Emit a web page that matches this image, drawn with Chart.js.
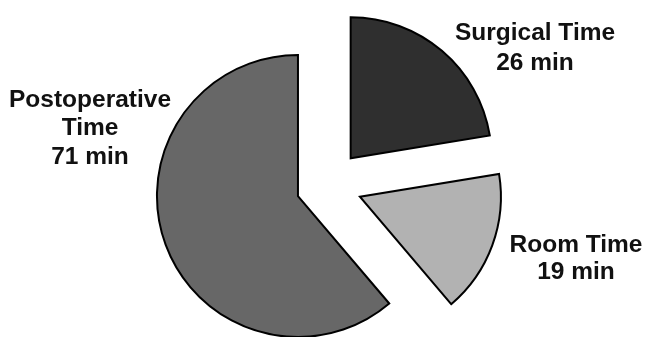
<!DOCTYPE html>
<html>
<head>
<meta charset="utf-8">
<script src="https://cdn.jsdelivr.net/npm/chart.js@4/dist/chart.umd.min.js"></script>
<style>
  html, body { margin: 0; padding: 0; background: #fff; }
  #wrap { width: 646px; height: 337px; position: relative; }
</style>
</head>
<body>
<div id="wrap"><canvas id="timeChart"></canvas></div>
<script>
// slices, clockwise from 12 o'clock
const categories = ['Surgical Time', 'Room Time', 'Postoperative Time'];
const minutes = [26, 19, 71];
const labelLines = [['Surgical Time', '26 min'], ['Room Time', '19 min'], ['Postoperative', 'Time', '71 min']];
const sliceColors = ['#2f2f2f', '#b2b2b2', '#676767'];

// how far each slice is pulled out from the centre (px)
const explode = [35, 34, 32];

// move every slice out along its middle angle (chart.js' own offset
// also shrinks the arc and grows big slices, so do it here instead)
const explodeSlices = {
  id: 'explodeSlices',
  afterDatasetUpdate(chart, args) {
    args.meta.data.forEach(function (arc, i) {
      const mid = (arc.startAngle + arc.endAngle) / 2;
      arc.x += Math.cos(mid) * explode[i];
      arc.y += Math.sin(mid) * explode[i];
    });
  }
};

// label placement relative to the pie centre (dx, dy of first line)
const labelPos = [[207, -152], [248, 60], [-238, -85]];
const lineStep = [30, 27, 28.5];

const sliceLabels = {
  id: 'sliceLabels',
  afterDraw(chart) {
    const ctx = chart.ctx;
    const area = chart.chartArea;
    const cx0 = (area.left + area.right) / 2;
    const cy0 = (area.top + area.bottom) / 2;
    ctx.save();
    ctx.fillStyle = '#111';
    ctx.font = 'bold 24.5px "Liberation Sans", Arial, sans-serif';
    ctx.textAlign = 'center';
    ctx.textBaseline = 'middle';
    labelLines.forEach(function (lines, i) {
      const cx = cx0 + labelPos[i][0];
      const top = cy0 + labelPos[i][1];
      lines.forEach(function (t, j) { ctx.fillText(t, cx, top + j * lineStep[i]); });
    });
    ctx.restore();
  }
};

new Chart(document.getElementById('timeChart'), {
  type: 'pie',
  data: {
    labels: categories,
    datasets: [{
      data: minutes,
      backgroundColor: sliceColors,
      borderColor: '#000',
      borderWidth: 2,
      borderJoinStyle: 'miter'
    }]
  },
  options: {
    responsive: true,
    maintainAspectRatio: false,
    animation: false,
    radius: 141,
    layout: { padding: { left: 10, right: 0, top: 33, bottom: 0 } },
    plugins: {
      legend: { display: false },
      tooltip: { enabled: false }
    }
  },
  plugins: [explodeSlices, sliceLabels]
});
</script>
</body>
</html>
